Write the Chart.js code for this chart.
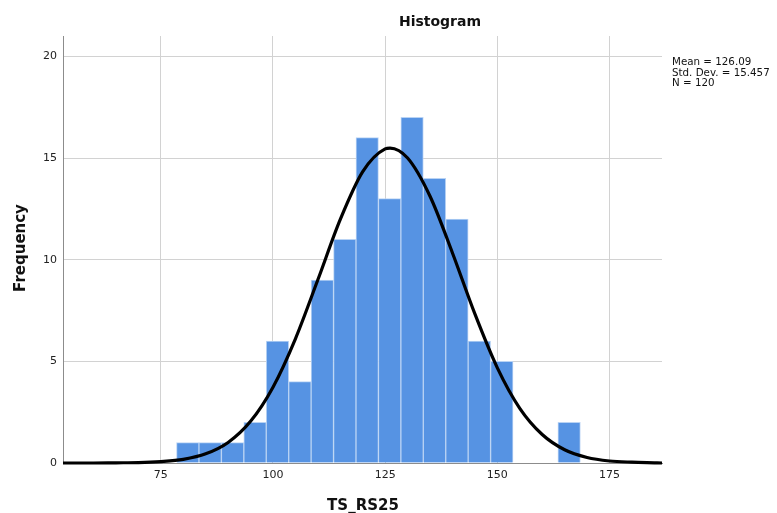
<!DOCTYPE html>
<html>
<head>
<meta charset="utf-8">
<script src="https://cdn.jsdelivr.net/npm/chart.js@4.4.1/dist/chart.umd.min.js"></script>
<style>
  html, body { margin: 0; padding: 0; background: #fff; }
  #wrap { width: 777px; height: 513px; }
</style>
</head>
<body>
<div id="wrap"><canvas id="hist"></canvas></div>
<script>
// bin centres (width 5) and counts
const binCenters = [81, 86, 91, 96, 101, 106, 111, 116, 121, 126, 131, 136, 141, 146, 151, 156, 161, 166];
const binCounts = [1, 1, 1, 2, 6, 4, 9, 11, 16, 13, 17, 14, 12, 6, 5, 0, 0, 2];

// fitted normal curve
const curveX = [53.2, 55, 60, 65, 70, 75, 80, 85, 90, 95, 100, 105, 110, 115, 120, 125, 126.09, 130, 135, 140, 145, 150, 155, 160, 165, 170, 175, 180, 185, 186.7];
const curveY = [0, 0, 0, 0.01, 0.02, 0.07, 0.18, 0.45, 1.01, 2.05, 3.73, 6.11, 9.01, 11.98, 14.33, 15.45, 15.49, 15.0, 13.12, 10.33, 7.33, 4.68, 2.69, 1.4, 0.65, 0.27, 0.1, 0.04, 0.01, 0];

const xTicks = [75, 100, 125, 150, 175];
const yTicks = [0, 5, 10, 15, 20];
const statLines = ['Mean = 126.09', 'Std. Dev. = 15.457', 'N = 120'];

const FONT = '"DejaVu Sans", sans-serif';

// titles and the stats box, drawn by hand at SPSS-like positions
const labelsPlugin = {
  id: 'labels',
  afterDraw(chart) {
    const ctx = chart.ctx;
    ctx.save();
    ctx.fillStyle = '#111';
    ctx.textAlign = 'center';
    ctx.textBaseline = 'alphabetic';
    ctx.font = 'bold 14px ' + FONT;
    ctx.fillText('Histogram', 440, 26);

    ctx.font = 'bold 15px ' + FONT;
    ctx.fillText('TS_RS25', 363, 510);

    ctx.save();
    ctx.translate(25, 248);
    ctx.rotate(-Math.PI / 2);
    ctx.fillText('Frequency', 0, 0);
    ctx.restore();

    ctx.textAlign = 'left';
    ctx.font = '10.3px ' + FONT;
    statLines.forEach((s, i) => ctx.fillText(s, 672, 65 + i * 10.5));
    ctx.restore();
  }
};

new Chart(document.getElementById('hist').getContext('2d'), {
  type: 'bar',
  data: {
    datasets: [
      {
        type: 'line',
        data: curveX.map((x, i) => ({x: x, y: curveY[i]})),
        borderColor: '#000',
        borderWidth: 3.2,
        pointRadius: 0,
        cubicInterpolationMode: 'monotone',
        fill: false,
        clip: 3,
        order: 0
      },
      {
        data: binCenters.map((x, i) => ({x: x, y: binCounts[i]})),
        backgroundColor: '#5693e3',
        borderColor: '#b9d3f4',
        borderWidth: 1,
        barPercentage: 1,
        categoryPercentage: 1,
        order: 1
      }
    ]
  },
  options: {
    responsive: true,
    maintainAspectRatio: false,
    animation: false,
    events: [],
    layout: {padding: {left: 0, right: 115, top: 36, bottom: 0}},
    plugins: {legend: {display: false}, tooltip: {enabled: false}},
    scales: {
      x: {
        type: 'linear',
        min: 53.2,
        max: 186.7,
        offset: false,
        afterBuildTicks: s => { s.ticks = xTicks.map(v => ({value: v})); },
        afterFit: s => { s.height = 50; },
        grid: {color: '#d2d2d2', drawTicks: false, offset: false},
        border: {color: '#8c8c8c', width: 1},
        ticks: {color: '#222', font: {family: FONT, size: 11}, padding: 6}
      },
      y: {
        min: 0,
        max: 21,
        afterBuildTicks: s => { s.ticks = yTicks.map(v => ({value: v})); },
        afterFit: s => { s.width = 63; },
        grid: {color: '#d2d2d2', drawTicks: false},
        border: {color: '#8c8c8c', width: 1},
        ticks: {color: '#222', font: {family: FONT, size: 11}, padding: 6}
      }
    }
  },
  plugins: [labelsPlugin]
});
</script>
</body>
</html>
